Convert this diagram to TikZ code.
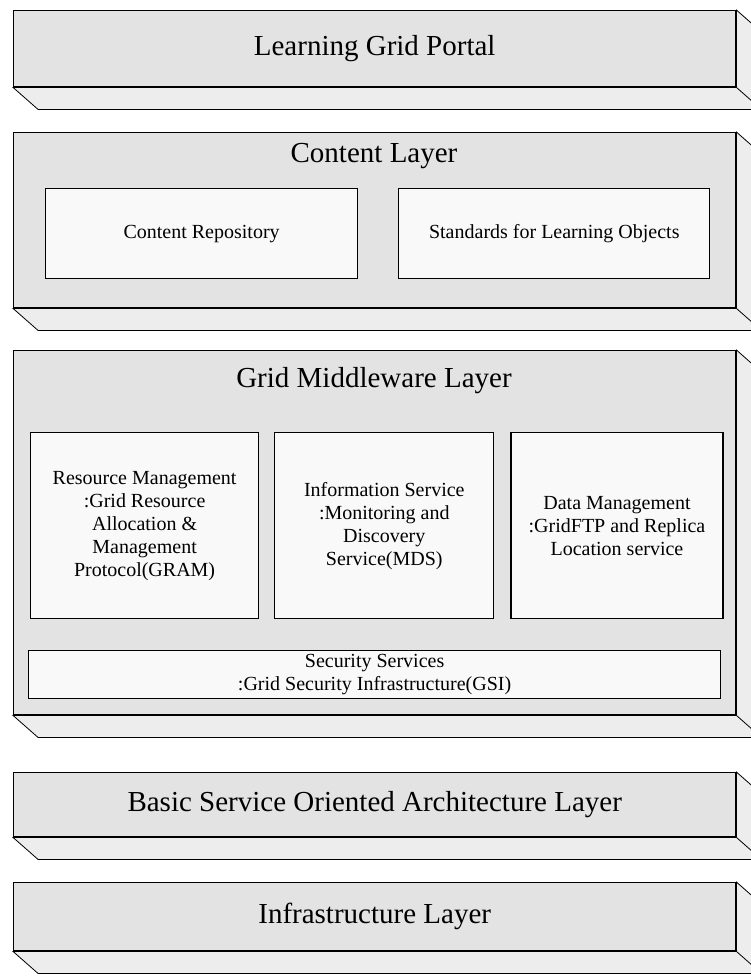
\documentclass[tikz,border=0pt]{standalone}
\usepackage{fontspec}
\setmainfont{Liberation Serif}
\usetikzlibrary{positioning,calc}
\tikzset{
  front/.style={draw, line width=1.4pt, fill=gray!22, minimum width=722pt, anchor=north west, inner sep=0pt,
                font=\fontsize{29}{32}\selectfont},
  slab/.style={draw, line width=0.8pt, fill=gray!14},
  part/.style={draw, line width=1.2pt, fill=gray!5, anchor=north west, inner sep=2pt, align=center,
               font=\fontsize{20}{23}\selectfont},
  title/.style={font=\fontsize{29}{32}\selectfont, inner sep=0pt}
}
\newcommand{\slabdepth}[1]{%
  \draw[slab] (#1.south west) -- ++(25,22) -| ($(#1.north east)+(25,22)$) -- (#1.north east) -- (#1.south east) -- cycle;
  \draw[slab] (#1.south east) -- ++(25,22);}

\begin{document}
\begin{tikzpicture}[x=1pt, y=-1pt]
\useasboundingbox[fill=white] (0,0) rectangle (751,977);
\clip (0,0) rectangle (751,977);

\node[front, minimum height=76pt] (portal) at (13,10) {Learning Grid Portal};
\slabdepth{portal}

\node[front, minimum height=175pt] (content) at (13,132) {};
\slabdepth{content}
\node[title] (contentT) at (374,156) {Content Layer};
\node[part, minimum width=312pt, minimum height=90pt] (repo) at (45,188) {Content Repository};
\node[part, minimum width=311pt, minimum height=90pt, right=40pt of repo.north east, anchor=north west] (stds) {Standards for Learning Objects};

\node[front, minimum height=364pt] (middle) at (13,350) {};
\slabdepth{middle}
\node[title] (middleT) at (374,381) {Grid Middleware Layer};
\node[part, minimum width=228pt, minimum height=186pt] (gram) at (30,432)
  {Resource Management\\ :Grid Resource\\ Allocation \&\\ Management\\ Protocol(GRAM)};
\node[part, minimum width=219pt, minimum height=186pt, right=15pt of gram.north east, anchor=north west] (mds)
  {Information Service\\ :Monitoring and\\ Discovery\\ Service(MDS)};
\node[part, minimum width=212pt, minimum height=186pt, right=16pt of mds.north east, anchor=north west] (data)
  {Data Management\\ :GridFTP and Replica\\ Location service};
\node[part, minimum width=692pt, minimum height=48pt, inner sep=0pt] (gsi) at (28,650)
  {Security Services\\ :Grid Security Infrastructure(GSI)};

\node[front, minimum height=64pt] (soa) at (13,772) {Basic Service Oriented Architecture Layer};
\slabdepth{soa}

\node[front, minimum height=68pt] (infra) at (13,882) {Infrastructure Layer};
\slabdepth{infra}
\end{tikzpicture}
\end{document}
